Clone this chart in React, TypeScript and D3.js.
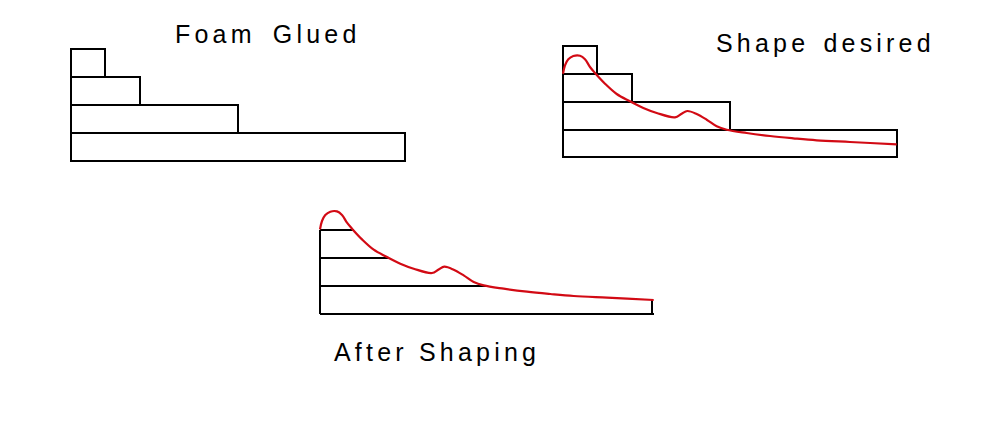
import * as d3 from "d3";

// layer widths, top layer first, in sketch units (1 unit = 1px at this size)
const layerWidths = [34, 69, 167, 334];
const layerIndex = [4, 3, 2, 1];

const curveX = [0, 2, 5.3, 10.3, 17, 22, 27, 32, 42, 53.7, 67, 80.3, 93.7, 112, 118.7, 124.3, 133.7, 143.7, 153.7, 163.7, 183.7, 207, 230.3, 253.7, 287, 333.7];
const curveY = [83.3, 91.7, 97.7, 101, 101.3, 97.7, 90, 84, 73.3, 63, 55.7, 49, 44, 39.7, 43.3, 46, 43, 37.3, 30.7, 27.3, 24, 21, 18.7, 16.7, 15, 12.7];

// cut layers after shaping: where each line stops along the curve
const shapedLines = [1, 2, 3];
const shapedWidths = [167, 69, 34];

const titles = ["Foam Glued", "Shape desired", "After Shaping"];

const LAYER_H = 28;
const BLACK = "#000";
const RED = "#d20a14";

const x = d3.scaleLinear().domain([0, 334]).range([0, 334]);
const y = d3.scaleLinear().domain([0, 4]).range([0, -4 * LAYER_H]);

const curvePath =
  d3
    .line<number>()
    .x((d) => x(d))
    .y((_, i) => -curveY[i])
    .curve(d3.curveCatmullRom.alpha(0.5))(curveX) ?? "";

function Layers({ bottomInset = 0 }: { bottomInset?: number }) {
  return (
    <g fill="none" stroke={BLACK} strokeWidth={2}>
      {layerWidths.map((w, i) => (
        <rect
          key={i}
          x={x(0)}
          y={y(layerIndex[i])}
          width={x(w)}
          height={layerIndex[i] === 1 ? LAYER_H - bottomInset : LAYER_H}
        />
      ))}
    </g>
  );
}

function Curve() {
  return <path d={curvePath} fill="none" stroke={RED} strokeWidth={2.2} strokeLinejoin="round" />;
}

function Title({ tx, ty, text, gap }: { tx: number; ty: number; text: string; gap: number }) {
  return (
    <text
      x={tx}
      y={ty}
      fontFamily="'Liberation Sans', Arial, sans-serif"
      fontSize={25}
      letterSpacing={4.2}
      wordSpacing={gap}
      fill="#000"
    >
      {text}
    </text>
  );
}

export default function App() {
  return (
    <svg
      width={1000}
      height={428}
      viewBox="0 0 1000 428"
      style={{ position: "absolute", left: 0, top: 0, background: "#fff" }}
    >
      <g transform="translate(71,161)">
        <Layers />
      </g>
      <Title tx={175} ty={43} text={titles[0]} gap={6} />

      <g transform="translate(563,158)">
        <Layers bottomInset={1} />
        <g transform="translate(0,-1)">
          <Curve />
        </g>
      </g>
      <Title tx={716} ty={52} text={titles[1]} gap={3} />

      <g transform="translate(320,314)">
        <g fill="none" stroke={BLACK} strokeWidth={2}>
          <line x1={x(0)} x2={x(0)} y1={y(0)} y2={y(3)} />
          <line x1={x(0)} x2={x(334)} y1={y(0)} y2={y(0)} />
          <line x1={x(332)} x2={x(332)} y1={y(0)} y2={-14} />
          {shapedLines.map((d, i) => (
            <line key={d} x1={x(0)} x2={x(shapedWidths[i])} y1={y(d)} y2={y(d)} />
          ))}
        </g>
        <g transform="translate(0,-1.3)">
          <Curve />
        </g>
      </g>
      <Title tx={334} ty={361} text={titles[2]} gap={0} />
    </svg>
  );
}
